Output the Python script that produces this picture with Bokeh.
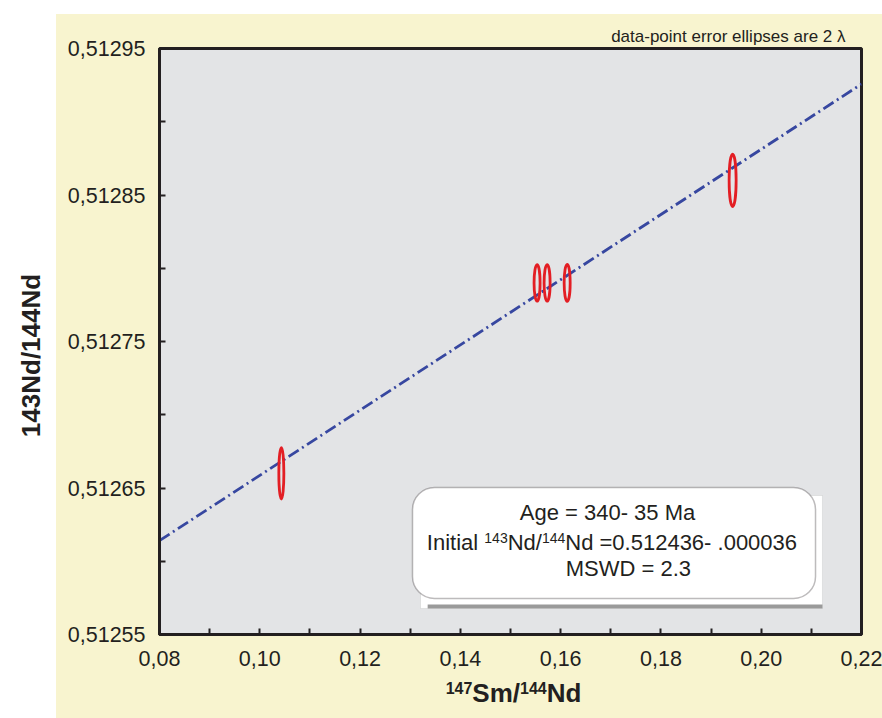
import math
from bokeh.plotting import figure
from bokeh.models import Range1d, FixedTicker, Label, BoxAnnotation, Spacer
from bokeh.layouts import row, column
from bokeh.embed import file_html
from bokeh.resources import INLINE

# ---- data ----
sm_nd = [0.1043, 0.1553, 0.1573, 0.1613, 0.1943]            # 147Sm/144Nd
nd_nd = [0.51266, 0.51279, 0.51279, 0.51279, 0.51286]       # 143Nd/144Nd
ell_w = [0.0010, 0.0012, 0.0012, 0.0012, 0.0014]            # 2-sigma ellipse widths
ell_h = [0.0000350, 0.0000250, 0.0000250, 0.0000252, 0.0000358]  # 2-sigma ellipse heights

age_ma = 340
initial_ratio = 0.512436
lambda_sm = 6.54e-12
slope = math.expm1(lambda_sm * age_ma * 1e6)

x_ticks = [0.08, 0.10, 0.12, 0.14, 0.16, 0.18, 0.20, 0.22]
x_tick_labels = ["0,08", "0,10", "0,12", "0,14", "0,16", "0,18", "0,20", "0,22"]
x_minor = [0.09, 0.11, 0.13, 0.15, 0.17, 0.19, 0.21]
y_ticks = [0.51255, 0.51265, 0.51275, 0.51285, 0.51295]
y_tick_labels = ["0,51255", "0,51265", "0,51275", "0,51285", "0,51295"]
y_minor = [0.5126, 0.5127, 0.5128, 0.5129]

age_text = "Age  = 340- 35 Ma"
initial_parts = [("Initial ", False), ("143", True), ("Nd/", False), ("144", True),
                 ("Nd =0.512436- .000036", False)]
mswd_text = "MSWD = 2.3"
note_text = "data-point error ellipses are 2 \u03bb"
x_title_parts = [("147", True), ("Sm/", False), ("144", True), ("Nd", False)]
y_title = "143Nd/144Nd"

FONT = "Liberation Sans"
DARK = "#231f20"
YELLOW = "#f8f4cf"

# advance widths (em) of the metric-compatible Arial / Liberation Sans
W_REG = {"I": .278, "n": .556, "i": .222, "t": .278, "a": .556, "l": .222, " ": .278,
         "N": .722, "d": .556, "/": .278, "=": .584, ".": .278, "-": .333}
W_BOLD = {"S": .667, "m": .889, "/": .278, "N": .722, "d": .611}
for c in "0123456789":
    W_REG[c] = .556
    W_BOLD[c] = .556


def text_w(s, size, bold=False):
    table = W_BOLD if bold else W_REG
    return sum(table[c] for c in s) * size


X0, X1 = x_ticks[0], x_ticks[-1]
Y0, Y1 = y_ticks[0], y_ticks[-1]
FRAME_W, FRAME_H = 702, 586


def fx(f):
    return X0 + f * (X1 - X0)


def fy(f):
    return Y0 + f * (Y1 - Y0)


# ---- main figure ----
p = figure(width=826, height=664,
           x_range=Range1d(X0, X1), y_range=Range1d(Y0, Y1),
           toolbar_location=None, output_backend="svg",
           min_border_left=103, min_border_right=21,
           min_border_top=34, min_border_bottom=44,
           background_fill_color="#e3e4e6", border_fill_color=YELLOW)
p.grid.visible = False
p.outline_line_color = DARK
p.outline_line_width = 3

# note above the frame, as the plot title
p.title.text = note_text
p.title.align = "right"
p.title.offset = 16
p.title.standoff = 5
p.title.text_font = FONT
p.title.text_font_size = "17px"
p.title.text_font_style = "normal"
p.title.text_color = DARK

p.xaxis.ticker = FixedTicker(ticks=x_ticks, minor_ticks=x_minor)
p.yaxis.ticker = FixedTicker(ticks=y_ticks, minor_ticks=y_minor)
p.xaxis.major_label_overrides = dict(zip(x_ticks, x_tick_labels))
p.yaxis.major_label_overrides = dict(zip(y_ticks, y_tick_labels))

for ax in (p.xaxis, p.yaxis):
    ax.axis_line_color = DARK
    ax.axis_line_width = 3
    ax.major_tick_in = 6
    ax.major_tick_out = 0
    ax.minor_tick_in = 6
    ax.minor_tick_out = 0
    ax.major_tick_line_color = DARK
    ax.minor_tick_line_color = DARK
    ax.major_tick_line_width = 2
    ax.minor_tick_line_width = 2
    ax.major_label_text_font = FONT
    ax.major_label_text_font_size = "21.5px"
    ax.major_label_text_color = DARK

p.yaxis.major_label_standoff = 14
p.xaxis.major_label_standoff = 16

# isochron line
line_x = [X0, X1]
line_y = [initial_ratio + slope * v for v in line_x]
p.line(line_x, line_y, line_color="#3747a0", line_width=2.8, line_dash="12 4 2 4")

# error ellipses
p.ellipse(x=sm_nd, y=nd_nd, width=ell_w, height=ell_h,
          fill_color=None, line_color="#e31e24", line_width=2.8)

# info box (shadow + rounded box)
p.add_layout(BoxAnnotation(left=fx(0.3718), right=fx(0.9444), bottom=fy(0.0444), top=fy(0.2372),
                           fill_color="white", fill_alpha=1, line_color="#b5b5b5", line_width=1))
p.add_layout(BoxAnnotation(left=fx(0.382), right=fx(0.9444), bottom=fy(0.0444), top=fy(0.0512),
                           fill_color="#9a9a9a", fill_alpha=1, line_color=None))
p.add_layout(BoxAnnotation(left=fx(0.3604), right=fx(0.9345), bottom=fy(0.0614), top=fy(0.2509),
                           fill_color="white", fill_alpha=1, line_color=DARK, line_width=1.5,
                           border_radius=22))

BOX_FS = 22
SUP_FS = 14
p.add_layout(Label(x=fx(0.6425), y=fy(0.2082), text=age_text, text_align="center",
                   text_baseline="middle", text_font=FONT, text_font_size=f"{BOX_FS}px",
                   text_color=DARK))
p.add_layout(Label(x=fx(0.668), y=fy(0.1121), text=mswd_text, text_align="center",
                   text_baseline="middle", text_font=FONT, text_font_size=f"{BOX_FS}px",
                   text_color=DARK))

# "Initial 143Nd/144Nd ..." built from pieces so the superscripts are small raised text
total = sum(text_w(s, SUP_FS if sup else BOX_FS) for s, sup in initial_parts)
cursor = -total / 2
for s, sup in initial_parts:
    fs = SUP_FS if sup else BOX_FS
    yf = 0.1575 + (4.0 / FRAME_H if sup else 0.0)
    p.add_layout(Label(x=fx(0.6445), y=fy(yf), x_offset=cursor, text=s,
                       text_align="left", text_baseline="middle", text_font=FONT,
                       text_font_size=f"{fs}px", text_color=DARK))
    cursor += text_w(s, fs)

# ---- strip under the plot carrying the x title (frame aligned with the plot) ----
XL_H = 40
xlab = figure(width=826, height=XL_H, x_range=Range1d(X0, X1), y_range=Range1d(0, XL_H),
              toolbar_location=None, output_backend="svg", min_border=0,
              min_border_left=103, min_border_right=21,
              x_axis_location=None, y_axis_location=None,
              background_fill_color=YELLOW, border_fill_color=YELLOW)
xlab.grid.visible = False
xlab.outline_line_color = None
XT_FS = 26
XS_FS = 16
total = sum(text_w(s, XS_FS if sup else XT_FS, bold=True) for s, sup in x_title_parts)
cursor = 3 - total / 2
for s, sup in x_title_parts:
    fs = XS_FS if sup else XT_FS
    p_y = 26 + (4.5 if sup else 0)
    xlab.add_layout(Label(x=fx(0.5), y=p_y, x_offset=cursor, text=s, text_align="left",
                          text_baseline="middle", text_font=FONT, text_font_size=f"{fs}px",
                          text_font_style="bold", text_color=DARK))
    cursor += text_w(s, fs, bold=True)

# ---- left strip carrying the y title on white ----
ylab = figure(width=56, height=704, x_range=Range1d(0, 56), y_range=Range1d(0, 704),
              toolbar_location=None, output_backend="svg", min_border=0,
              x_axis_location=None, y_axis_location=None,
              background_fill_color="white", border_fill_color="white")
ylab.grid.visible = False
ylab.outline_line_color = None
ylab.add_layout(Label(x=30, y=704 - 341, text=y_title, angle=math.pi / 2,
                      text_align="center", text_baseline="middle", text_font=FONT,
                      text_font_size="26px", text_font_style="bold", text_color=DARK))

right = column(p, xlab, styles={"background-color": YELLOW})
layout = column(Spacer(width=882, height=14), row(ylab, right))

open("out.html", "w").write(file_html(layout, INLINE))
